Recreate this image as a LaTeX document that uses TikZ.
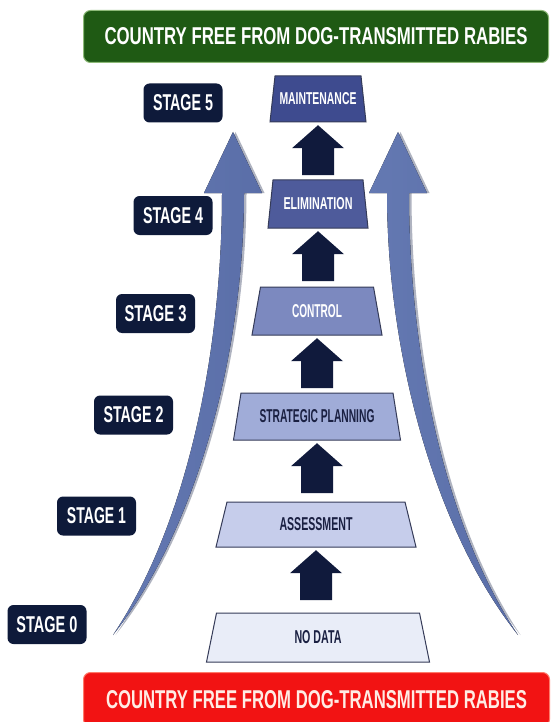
\documentclass[tikz,border=0pt]{standalone}
\usepackage{fontspec}
\setmainfont{Liberation Sans}
\usetikzlibrary{calc}
\definecolor{bgreen}{HTML}{1F5A14}
\definecolor{lgreen}{HTML}{8DBA78}
\definecolor{bred}{HTML}{F21313}
\definecolor{lred}{HTML}{FF7A6A}
\definecolor{navyA}{HTML}{101A3C}
\definecolor{stagefill}{HTML}{0E1A3A}
\definecolor{bigarrow}{HTML}{5A6EA8}
\definecolor{bigarrowl}{HTML}{6479B2}
\definecolor{shadowc}{HTML}{8E94A6}
\definecolor{cmaint}{HTML}{3E4B8F}
\definecolor{celim}{HTML}{4E5B9B}
\definecolor{ccontrol}{HTML}{7C89BF}
\definecolor{cstrat}{HTML}{A0ACD8}
\definecolor{cassess}{HTML}{C6CDEB}
\definecolor{cnodata}{HTML}{E9EDF8}
\definecolor{trapline}{HTML}{353B58}
\definecolor{darktext}{HTML}{1A2042}
\newcommand\fitt[3]{\resizebox{#1pt}{#2pt}{\bfseries #3}}
\newcommand\trap[8]{%
  \filldraw[draw=trapline, line width=1pt, fill=#7]
    ({#2-#4/2},{#3-#6/2}) -- ({#2+#4/2},{#3-#6/2}) --
    ({#2+#5/2},{#3+#6/2}) -- ({#2-#5/2},{#3+#6/2}) -- cycle;
  \node[inner sep=0pt, minimum width={#5pt}, minimum height={#6pt}] (#1) at (#2,#3) {#8};}
\newcommand\blockup[1]{%
  \fill[navyA] ($(#1.south)+(0,3)$) -- ++(26,23) -- ++(-10,0) -- ++(0,27)
    -- ++(-32,0) -- ++(0,-27) -- ++(-10,0) -- cycle;}
\tikzset{
  banner/.style={rounded corners=7pt, line width=1pt, inner sep=0pt, anchor=north west},
  stagebox/.style={fill=stagefill, rounded corners=6pt, minimum width=79pt, minimum height=39pt, inner sep=0pt, text=white},
  curvearrow/.style={left color=bigarrowl, right color=bigarrow},
  curveshadow/.style={fill=shadowc, opacity=.7, xshift=2.5pt},
}
\begin{document}
\begin{tikzpicture}[x=1pt,y=-1pt]
\useasboundingbox (0,0) rectangle (550,722);
\fill[white] (0,0) rectangle (550,722);

% banners
\node[banner, fill=bgreen, draw=lgreen, minimum width=465pt, minimum height=52pt, text=white] (top) at (83,10)
  {\fitt{423}{17}{COUNTRY FREE FROM DOG-TRANSMITTED RABIES}};
\node[banner, fill=bred, draw=lred, minimum width=466pt, minimum height=54pt, text={rgb,255:red,255;green,236;blue,228}] (bottom) at (83,672)
  {\fitt{421}{18}{COUNTRY FREE FROM DOG-TRANSMITTED RABIES}};

% big curved arrows (shadow then body)
\fill[curveshadow] (113,635) .. controls (190,520) and (222,345) .. (222,193) -- (204,193) -- (233,132) -- (262,193) -- (244,193) .. controls (244,350) and (198,528) .. (113,635) -- cycle;
\fill[curvearrow] (113,635) .. controls (190,520) and (222,345) .. (222,193) -- (204,193) -- (233,132) -- (262,193) -- (244,193) .. controls (244,350) and (198,528) .. (113,635) -- cycle;

\fill[curveshadow] (518,635) .. controls (441,520) and (409,345) .. (409,193) -- (427,193) -- (398,132) -- (369,193) -- (387,193) .. controls (387,350) and (433,528) .. (518,635) -- cycle;
\fill[curvearrow] (518,635) .. controls (441,520) and (409,345) .. (409,193) -- (427,193) -- (398,132) -- (369,193) -- (387,193) .. controls (387,350) and (433,528) .. (518,635) -- cycle;

% trapezoids
\trap{maint}{318}{99}{86}{96}{46}{cmaint}{\textcolor{white}{\fitt{77}{12}{MAINTENANCE}}}
\trap{elim}{318}{204}{90}{100}{48}{celim}{\textcolor{white}{\fitt{69}{12}{ELIMINATION}}}
\trap{control}{317}{311}{113}{130}{48}{ccontrol}{\textcolor{white}{\fitt{50}{13}{CONTROL}}}
\trap{strat}{317}{416.5}{152}{167}{47}{cstrat}{\textcolor{darktext}{\fitt{115}{13}{STRATEGIC PLANNING}}}
\trap{assess}{316}{524.5}{178}{200}{45}{cassess}{\textcolor{darktext}{\fitt{73}{13}{ASSESSMENT}}}
\trap{nodata}{318}{637.5}{203}{223}{49}{cnodata}{\textcolor{darktext}{\fitt{47}{13}{NO DATA}}}

% block arrows
\blockup{maint}
\blockup{elim}
\blockup{control}
\blockup{strat}
\blockup{assess}

% stage labels
\node[stagebox] (s5) at (183,103) {\fitt{60}{16}{STAGE 5}};
\node[stagebox] (s4) at (173,215.5) {\fitt{60}{16}{STAGE 4}};
\node[stagebox] (s3) at (155.5,313.5) {\fitt{62}{16}{STAGE 3}};
\node[stagebox] (s2) at (133.5,415) {\fitt{60}{16}{STAGE 2}};
\node[stagebox] (s1) at (96.5,516) {\fitt{59}{16}{STAGE 1}};
\node[stagebox] (s0) at (47,624.5) {\fitt{61}{16}{STAGE 0}};
\end{tikzpicture}
\end{document}
